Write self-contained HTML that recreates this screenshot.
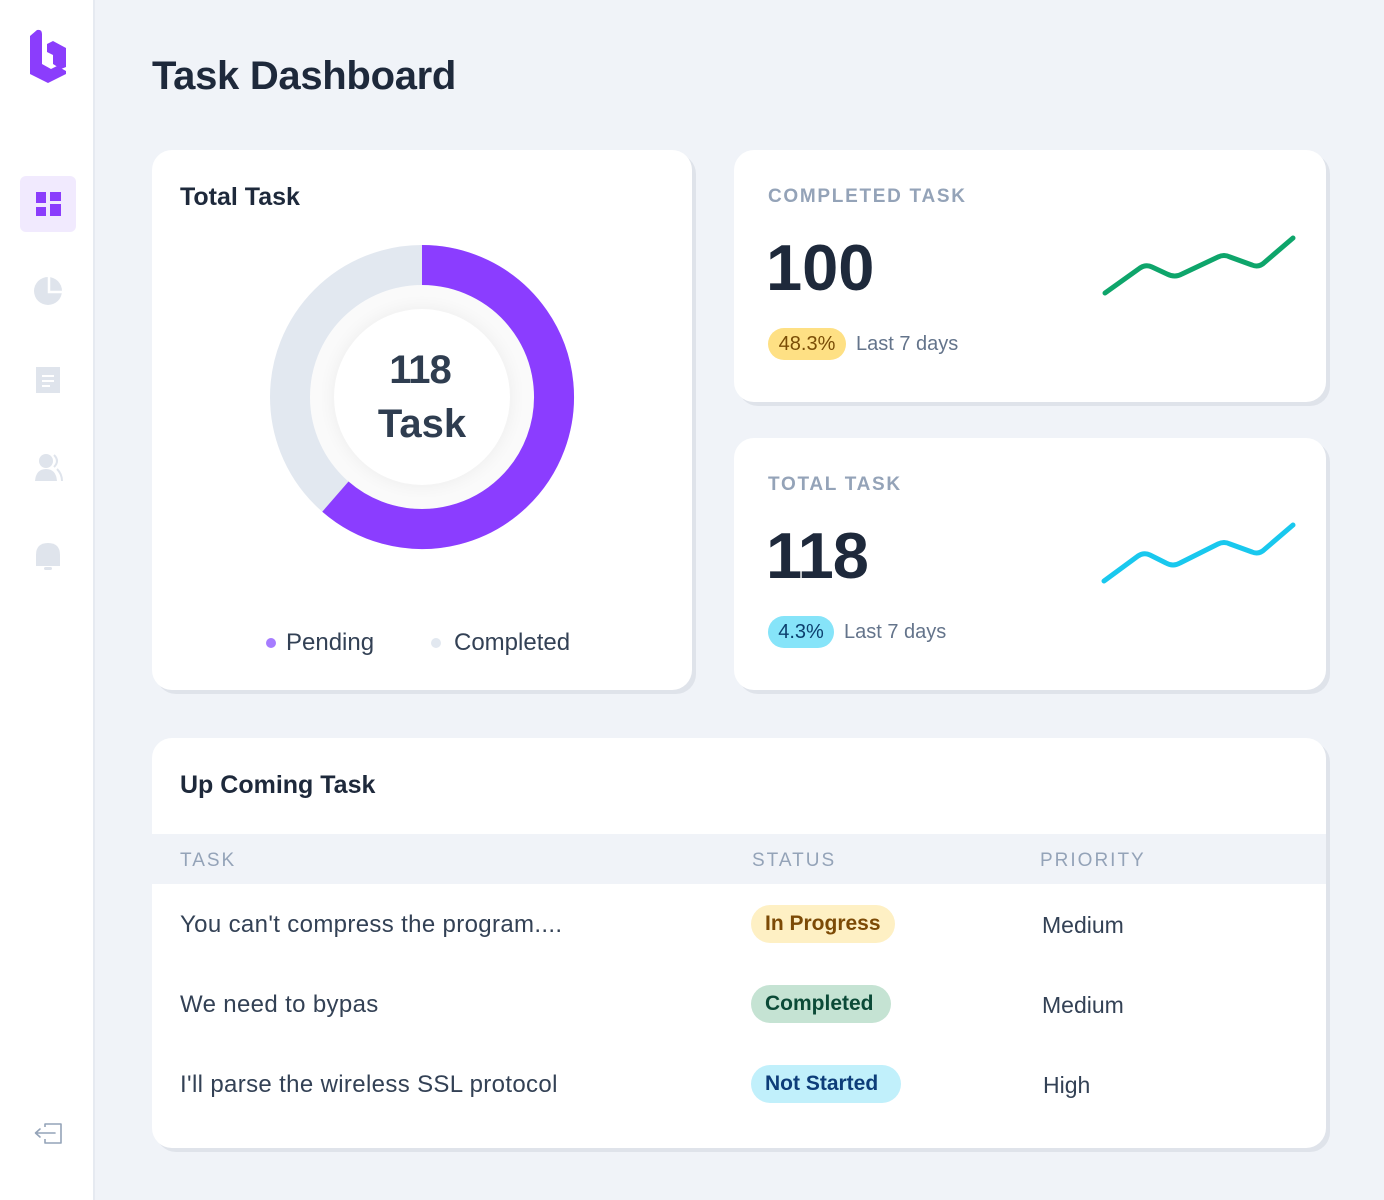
<!DOCTYPE html>
<html>
<head>
<meta charset="utf-8">
<style>
  * { margin:0; padding:0; box-sizing:border-box; }
  html, body { width:1384px; height:1200px; overflow:hidden; }
  body { background:#f0f3f8; font-family:"Liberation Sans", sans-serif; position:relative; color:#1e293b; }
  .sidebar { position:absolute; left:0; top:0; width:95px; height:1200px; background:#ffffff; border-right:2px solid #e6eaf1; }
  .abs { position:absolute; }
  .card { position:absolute; background:#fff; border-radius:20px; box-shadow:4px 4px 0 #dfe3ea; overflow:hidden; }
  h1 { position:absolute; left:152px; top:52px; font-size:40px; font-weight:bold; letter-spacing:-0.3px; color:#1e293b; line-height:48px; white-space:nowrap; }
  .ctitle { position:absolute; font-size:25px; font-weight:bold; color:#1e293b; white-space:nowrap; line-height:30px; }
  .label { position:absolute; left:34px; font-size:19px; font-weight:bold; letter-spacing:1.7px; color:#94a3b8; white-space:nowrap; line-height:22px; }
  .big { position:absolute; left:32px; font-size:65px; font-weight:bold; color:#1e293b; line-height:70px; white-space:nowrap; }
  .pill { position:absolute; height:32px; border-radius:16px; font-size:20px; line-height:32px; text-align:center; white-space:nowrap; }
  .last { position:absolute; font-size:20px; color:#64748b; line-height:32px; white-space:nowrap; }
  .th { position:absolute; font-size:19px; letter-spacing:2px; color:#94a3b8; top:850px; line-height:22px; white-space:nowrap; }
  .td { position:absolute; font-size:24px; color:#334155; line-height:30px; white-space:nowrap; letter-spacing:0.35px; }
  .badge { position:absolute; height:38px; border-radius:19px; font-size:21px; font-weight:bold; line-height:38px; padding:0 14px; white-space:nowrap; }
  .legend { position:absolute; top:629px; font-size:24px; color:#334155; line-height:28px; white-space:nowrap; }
  .dot { position:absolute; width:10px; height:10px; border-radius:5px; }
</style>
</head>
<body>

<!-- Sidebar -->
<div class="sidebar"></div>
<svg class="abs" style="left:0;top:0" width="95" height="1200" viewBox="0 0 95 1200">
  <!-- logo -->
  <path d="M30,36 L37,30 Q42,29 42,34 L42,64 L51,69 L57,66 L66,71 L66,74 L48,83 L30,74 Z" fill="#8b3dfc"/>
  <path d="M47,44 L53,41 L66,48 L66,67 L61,69 L53,64 L53,55 L47,52 Z" fill="#8b3dfc"/>
  <!-- active -->
  <rect x="20" y="176" width="56" height="56" rx="6" fill="#f1eafe"/>
  <rect x="36" y="192" width="10" height="11" fill="#8b3dfc"/>
  <rect x="36" y="207" width="10" height="9" fill="#8b3dfc"/>
  <rect x="50" y="192" width="11" height="9" fill="#8b3dfc"/>
  <rect x="50" y="204" width="11" height="12" fill="#8b3dfc"/>
  <!-- pie -->
  <circle cx="48" cy="291" r="14" fill="#dfe4ec"/>
  <path d="M49,276 L49,292 L64,292" stroke="#fff" stroke-width="2.5" fill="none"/>
  <!-- doc -->
  <rect x="36" y="367" width="24" height="26" fill="#dfe4ec"/>
  <rect x="42" y="375" width="12" height="2" fill="#fff"/>
  <rect x="42" y="380" width="12" height="2" fill="#fff"/>
  <rect x="42" y="385" width="8" height="2" fill="#fff"/>
  <!-- users -->
  <circle cx="46" cy="461" r="7" fill="#dfe4ec"/>
  <path d="M35,481 Q36,469 46,469 Q56,469 57,481 Z" fill="#dfe4ec"/>
  <path d="M54,455 Q60,461 54,467" stroke="#dfe4ec" stroke-width="2" fill="none"/>
  <path d="M57,469 Q62,474 62,481" stroke="#dfe4ec" stroke-width="2" fill="none"/>
  <!-- bell -->
  <path d="M36,566 L36,555 Q36,543 48,543 Q60,543 60,555 L60,566 Z" fill="#dfe4ec"/>
  <rect x="44" y="567" width="8" height="3" rx="1.5" fill="#dfe4ec"/>
  <!-- logout -->
  <path d="M45,1127 L45,1124 L61,1124 L61,1143 L45,1143 L45,1139" stroke="#94a3b8" stroke-width="1.6" fill="none" stroke-linejoin="round"/>
  <path d="M55,1133 L36,1133 M40,1129 L35.5,1133 L40,1137" stroke="#94a3b8" stroke-width="1.6" fill="none" stroke-linecap="round" stroke-linejoin="round"/>
</svg>

<h1>Task Dashboard</h1>

<!-- Card 1: Total task donut -->
<div class="card" style="left:152px;top:150px;width:540px;height:540px;"></div>
<div class="ctitle" style="left:180px;top:182px;">Total Task</div>
<div class="abs" style="left:310px;top:285px;width:224px;height:224px;border-radius:50%;background:#fafafa;"></div>
<div class="abs" style="left:334px;top:309px;width:176px;height:176px;border-radius:50%;background:#fff;box-shadow:0 0 18px rgba(0,0,0,0.06);"></div>
<svg class="abs" style="left:0;top:0" width="700" height="700" viewBox="0 0 700 700">
  <circle cx="422" cy="397" r="132" stroke="#e2e8f0" stroke-width="40" fill="none"/>
  <path d="M422,265 A132,132 0 1 1 335.4,496.6" stroke="#8b3dff" stroke-width="40" fill="none" stroke-linecap="butt"/>
</svg>
<div class="abs" style="left:320px;top:347px;width:200px;text-align:center;font-size:40px;font-weight:bold;color:#2f3d50;line-height:46px;letter-spacing:-1px;">118</div>
<div class="abs" style="left:322px;top:401px;width:200px;text-align:center;font-size:40px;font-weight:bold;color:#2f3d50;line-height:46px;">Task</div>
<div class="dot" style="left:266px;top:638px;background:#a67cff;"></div>
<div class="legend" style="left:286px;">Pending</div>
<div class="dot" style="left:431px;top:638px;background:#e2e8f0;"></div>
<div class="legend" style="left:454px;">Completed</div>

<!-- Card 2: Completed task -->
<div class="card" style="left:734px;top:150px;width:592px;height:252px;">
  <div class="label" style="top:36px;">COMPLETED TASK</div>
  <div class="big" style="top:83px;">100</div>
  <div class="pill" style="left:34px;top:178px;width:78px;background:#fee084;color:#7a4d06;">48.3%</div>
  <div class="last" style="left:122px;top:178px;">Last 7 days</div>
</div>

<!-- Card 3: Total task -->
<div class="card" style="left:734px;top:438px;width:592px;height:252px;">
  <div class="label" style="top:36px;">TOTAL TASK</div>
  <div class="big" style="top:83px;letter-spacing:-1px;">118</div>
  <div class="pill" style="left:34px;top:178px;width:66px;background:#86e4f9;color:#0c3f6e;">4.3%</div>
  <div class="last" style="left:110px;top:178px;">Last 7 days</div>
</div>

<!-- Sparklines (above cards) -->
<svg class="abs" style="left:0;top:0;z-index:5" width="1384" height="700" viewBox="0 0 1384 700">
  <path d="M1105,293 L1140,268 Q1146,264 1152,267 L1167,274 Q1175,278 1182,274 L1218,257 Q1224,254 1230,257 L1252,265 Q1259,268 1265,262 L1293,238" stroke="#0ea56b" stroke-width="5" fill="none" stroke-linecap="round" stroke-linejoin="round"/>
  <path d="M1104,581 L1138,556 Q1144,552 1150,555 L1166,563 Q1173,567 1180,563 L1218,544 Q1224,541 1230,544 L1252,552 Q1259,555 1265,549 L1293,525" stroke="#19c8ee" stroke-width="5" fill="none" stroke-linecap="round" stroke-linejoin="round"/>
</svg>

<!-- Card 4: Upcoming -->
<div class="card" style="left:152px;top:738px;width:1174px;height:410px;">
  <div class="abs" style="left:0;top:96px;width:1174px;height:50px;background:#f0f3f8;"></div>
</div>
<div class="ctitle" style="left:180px;top:770px;">Up Coming Task</div>
<div class="th" style="left:180px;">TASK</div>
<div class="th" style="left:752px;">STATUS</div>
<div class="th" style="left:1040px;">PRIORITY</div>

<div class="td" style="left:180px;top:910px;">You can't compress the program....</div>
<div class="td" style="left:180px;top:990px;">We need to bypas</div>
<div class="td" style="left:180px;top:1070px;">I'll parse the wireless SSL protocol</div>

<div class="badge" style="left:751px;top:905px;width:144px;background:#fef0c4;color:#7c4a06;">In Progress</div>
<div class="badge" style="left:751px;top:985px;width:140px;background:#c5e3d3;color:#0b4a37;">Completed</div>
<div class="badge" style="left:751px;top:1065px;width:150px;background:#c1f0fb;color:#0d3d79;">Not Started</div>

<div class="td" style="left:1042px;top:910px;font-size:23px;letter-spacing:0;">Medium</div>
<div class="td" style="left:1042px;top:990px;font-size:23px;letter-spacing:0;">Medium</div>
<div class="td" style="left:1043px;top:1070px;font-size:23px;letter-spacing:0;">High</div>

</body>
</html>
